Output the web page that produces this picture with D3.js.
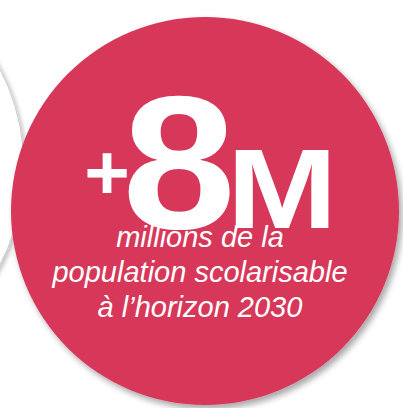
<!DOCTYPE html>
<html>
<head>
<meta charset="utf-8">
<script src="https://cdn.jsdelivr.net/npm/d3@7"></script>
<style>
  body { margin: 0; background: #fff; }
</style>
</head>
<body>
<div id="my_dataviz"></div>
<script>
// size of the picture
const width = 403, height = 408;

// colours
var redColor = '#d7395a';
var greyLine = '#c9c9c9';

// the big figure, drawn in three pieces
var headParts = ["+", "8", "M"];
var headSizes = [78, 189, 113];
// the caption under it
var subLines = ["millions de la", "population scolarisable", "à l’horizon 2030"];

const svg = d3.select("#my_dataviz")
  .append("svg")
  .attr("width", width)
  .attr("height", height);

const defs = svg.append("defs");
const shadow = defs.append("filter")
  .attr("id", "shadow")
  .attr("x", "-20%").attr("y", "-20%")
  .attr("width", "140%").attr("height", "140%");
shadow.append("feDropShadow")
  .attr("dx", 3).attr("dy", 4)
  .attr("stdDeviation", 3)
  .attr("flood-color", "#000")
  .attr("flood-opacity", 0.35);

const soft = defs.append("filter")
  .attr("id", "soft")
  .attr("x", "-20%").attr("y", "-20%")
  .attr("width", "140%").attr("height", "140%");
soft.append("feDropShadow")
  .attr("dx", 2).attr("dy", 2)
  .attr("stdDeviation", 2)
  .attr("flood-color", "#000")
  .attr("flood-opacity", 0.25);

// the white circle peeking on the left
svg.append("circle")
  .attr("cx", -188)
  .attr("cy", 167)
  .attr("r", 212)
  .attr("fill", "#fff")
  .attr("stroke", greyLine)
  .attr("stroke-width", 1)
  .attr("filter", "url(#soft)");

// the red circle
svg.append("circle")
  .attr("cx", 205)
  .attr("cy", 211)
  .attr("r", 194)
  .attr("fill", redColor)
  .attr("filter", "url(#shadow)");

// +8M
var headX = [107, 179, 282];
var headY = [199, 228, 228];
var headSX = [1.0, 1.08, 1.17];

svg.selectAll(".head")
  .data(headParts)
  .enter()
  .append("text")
  .attr("class", "head")
  .attr("transform", function (d, i) {
    return "translate(" + headX[i] + "," + headY[i] + ") scale(" + headSX[i] + ",1)";
  })
  .attr("text-anchor", "middle")
  .style("font-family", "Liberation Sans, Arial, sans-serif")
  .style("font-weight", "bold")
  .style("font-size", function (d, i) { return headSizes[i] + "px"; })
  .attr("fill", "#fff")
  .text(function (d) { return d; });

// caption lines
const lineY = d3.scaleLinear().domain([0, subLines.length - 1]).range([247, 317]);

svg.selectAll(".sub")
  .data(subLines)
  .enter()
  .append("text")
  .attr("class", "sub")
  .attr("x", 200)
  .attr("y", function (d, i) { return lineY(i); })
  .attr("text-anchor", "middle")
  .style("font-family", "Liberation Sans, Arial, sans-serif")
  .style("font-style", "italic")
  .style("font-size", "29px")
  .attr("fill", "#fff")
  .text(function (d) { return d; });
</script>
</body>
</html>
